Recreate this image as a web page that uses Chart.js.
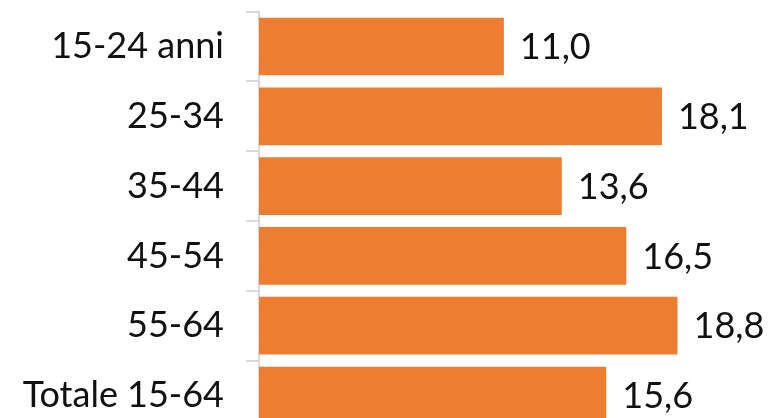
<!DOCTYPE html>
<html>
<head>
<meta charset="utf-8">
<script src="https://cdn.jsdelivr.net/npm/chart.js@4.4.1/dist/chart.umd.min.js"></script>
<style>
  html, body { margin:0; padding:0; background:#fff; overflow:hidden; }
  .wrap { position:relative; width:772px; height:418px; overflow:hidden; }
  #chart { position:absolute; left:0; top:-32px; }
</style>
</head>
<body>
<div class="wrap"><canvas id="chart" width="772" height="506"></canvas></div>
<script>
/* age groups and rates */
const categories = ['15-24 anni', '25-34', '35-44', '45-54', '55-64', 'Totale 15-64'];
const values = [11.0, 18.1, 13.6, 16.5, 18.8, 15.6];
const xMax = 23;

const FONT = 'Lato, "Open Sans", sans-serif';

function fmt(v){
  return v.toFixed(1).replace('.', ',');
}

/* value labels at the end of each bar */
const barLabels = {
  id: 'barLabels',
  afterDatasetsDraw(chart){
    const ctx = chart.ctx;
    const meta = chart.getDatasetMeta(0);
    ctx.save();
    ctx.font = '36px ' + FONT;
    ctx.fillStyle = '#111';
    ctx.textAlign = 'left';
    ctx.textBaseline = 'middle';
    meta.data.forEach((bar, i) => {
      ctx.fillText(fmt(values[i]), bar.x + 16, bar.y + 1);
    });
    ctx.restore();
  }
};

new Chart(document.getElementById('chart'), {
  type: 'bar',
  data: {
    labels: categories,
    datasets: [{
      data: values,
      backgroundColor: '#ED7D31',
      borderWidth: 0,
      categoryPercentage: 1,
      barPercentage: 0.826
    }]
  },
  options: {
    indexAxis: 'y',
    responsive: false,
    animation: false,
    layout: { padding: { top: 14, right: 1, left: 0, bottom: 0 } },
    plugins: { legend: { display: false }, tooltip: { enabled: false } },
    scales: {
      x: {
        display: false,
        min: 0,
        max: xMax
      },
      y: {
        offset: true,
        afterFit(scale){ scale.width = 259; },
        grid: {
          offset: true,
          drawOnChartArea: false,
          drawTicks: true,
          tickLength: 13,
          color: '#D9D9D9',
          lineWidth: 2
        },
        border: { display: true, color: '#D9D9D9', width: 2 },
        ticks: {
          color: '#111',
          padding: 22,
          font: { family: FONT, size: 36 }
        }
      }
    }
  },
  plugins: [barLabels]
});
</script>
</body>
</html>
